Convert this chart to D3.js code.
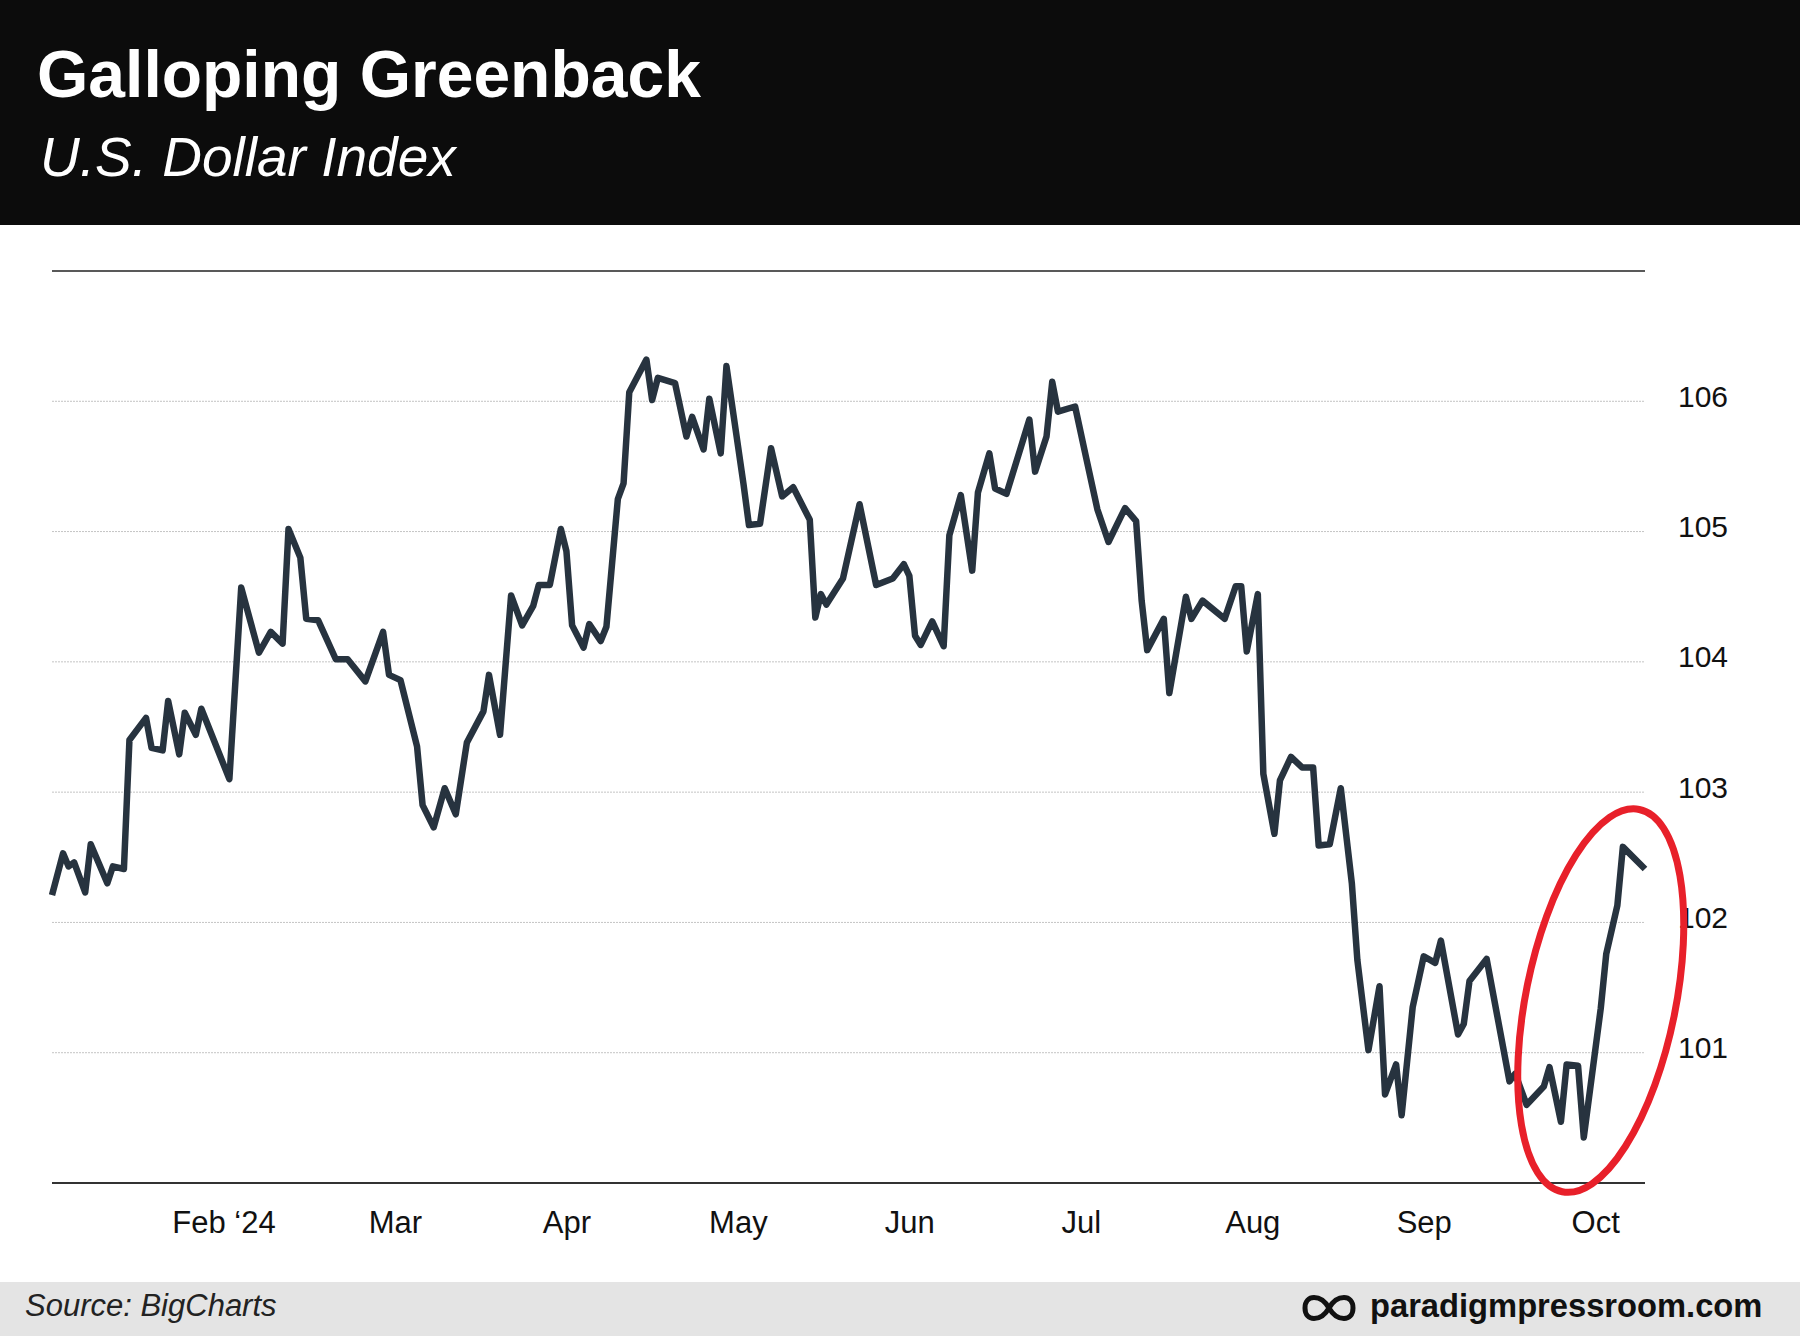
<!DOCTYPE html>
<html>
<head>
<meta charset="utf-8">
<script src="https://cdn.jsdelivr.net/npm/d3@7"></script>
<style>
  body { margin: 0; background: #fff; }
  svg { display: block; font-family: "Helvetica Neue", Helvetica, Arial, "Liberation Sans", sans-serif; }
</style>
</head>
<body>
<div id="chart"></div>
<script>
// DXY daily closes
const dates = [
  '2024-01-01','2024-01-03','2024-01-04','2024-01-05','2024-01-07','2024-01-08','2024-01-11','2024-01-12','2024-01-14',
  '2024-01-15','2024-01-18','2024-01-19','2024-01-21','2024-01-22','2024-01-24','2024-01-25','2024-01-27','2024-01-28',
  '2024-02-02','2024-02-04','2024-02-07','2024-02-09','2024-02-11','2024-02-12','2024-02-14','2024-02-15','2024-02-17',
  '2024-02-20','2024-02-22','2024-02-25','2024-02-28','2024-02-29',
  '2024-03-02','2024-03-05','2024-03-06','2024-03-08','2024-03-10','2024-03-12','2024-03-14','2024-03-17','2024-03-18',
  '2024-03-20','2024-03-22','2024-03-24','2024-03-26','2024-03-27','2024-03-29','2024-03-31',
  '2024-04-01','2024-04-02','2024-04-04','2024-04-05','2024-04-07','2024-04-08','2024-04-10','2024-04-11','2024-04-12',
  '2024-04-15','2024-04-16','2024-04-17','2024-04-20','2024-04-22','2024-04-23','2024-04-25','2024-04-26','2024-04-28','2024-04-29',
  '2024-05-02','2024-05-03','2024-05-05','2024-05-07','2024-05-09','2024-05-11','2024-05-14','2024-05-15','2024-05-16',
  '2024-05-17','2024-05-20','2024-05-23','2024-05-26','2024-05-29','2024-05-31',
  '2024-06-01','2024-06-02','2024-06-03','2024-06-05','2024-06-07','2024-06-08','2024-06-10','2024-06-12','2024-06-13',
  '2024-06-15','2024-06-16','2024-06-18','2024-06-22','2024-06-23','2024-06-25','2024-06-26','2024-06-27','2024-06-30',
  '2024-07-02','2024-07-04','2024-07-06','2024-07-09','2024-07-11','2024-07-12','2024-07-13','2024-07-16','2024-07-17',
  '2024-07-20','2024-07-21','2024-07-23','2024-07-27','2024-07-29','2024-07-30','2024-07-31',
  '2024-08-02','2024-08-03','2024-08-05','2024-08-06','2024-08-08','2024-08-10','2024-08-12','2024-08-13','2024-08-15',
  '2024-08-17','2024-08-19','2024-08-20','2024-08-22','2024-08-24','2024-08-25','2024-08-27','2024-08-28','2024-08-30',
  '2024-09-01','2024-09-03','2024-09-04','2024-09-07','2024-09-08','2024-09-09','2024-09-12','2024-09-16','2024-09-17',
  '2024-09-19','2024-09-22','2024-09-23','2024-09-25','2024-09-26','2024-09-28','2024-09-29',
  '2024-10-02','2024-10-03','2024-10-05','2024-10-06','2024-10-10'
];

const values = [
  102.21,102.53,102.43,102.46,102.23,102.60,102.30,102.43,102.41,
  103.40,103.57,103.34,103.32,103.70,103.29,103.61,103.44,103.64,
  103.10,104.57,104.07,104.23,104.14,105.02,104.80,104.33,104.32,
  104.02,104.02,103.85,104.23,103.90,
  103.86,103.35,102.90,102.73,103.03,102.83,103.38,103.62,103.90,
  103.44,104.51,104.28,104.43,104.59,104.59,105.02,
  104.85,104.28,104.11,104.29,104.16,104.27,105.25,105.37,106.07,
  106.32,106.01,106.18,106.14,105.73,105.88,105.63,106.02,105.60,106.27,
  105.37,105.05,105.06,105.64,105.27,105.34,105.09,104.34,104.52,
  104.44,104.64,105.21,104.59,104.64,104.75,
  104.66,104.20,104.13,104.31,104.12,104.97,105.28,104.70,105.30,
  105.60,105.33,105.29,105.86,105.46,105.73,106.15,105.92,105.96,
  105.56,105.17,104.92,105.18,105.08,104.47,104.09,104.33,103.76,
  104.50,104.33,104.47,104.33,104.58,104.58,104.08,
  104.52,103.14,102.68,103.09,103.27,103.19,103.19,102.59,102.60,
  103.03,102.30,101.71,101.02,101.51,100.68,100.91,100.52,101.35,
  101.74,101.69,101.86,101.14,101.22,101.55,101.72,100.78,100.84,
  100.60,100.74,100.89,100.47,100.91,100.90,100.35,
  101.34,101.76,102.13,102.58,102.41
];

const monthTicks = ['2024-02-01','2024-03-01','2024-04-01','2024-05-01','2024-06-01','2024-07-01','2024-08-01','2024-09-01','2024-10-01'];
const monthLabels = ['Feb \u201824','Mar','Apr','May','Jun','Jul','Aug','Sep','Oct'];
const yTicks = [101, 102, 103, 104, 105, 106];
const yDomain = [100, 107];

// red ring around the October rebound
const ringCenter = { date: '2024-10-02', value: 101.4 };

const title = 'Galloping Greenback';
const subtitle = 'U.S. Dollar Index';
const source = 'Source: BigCharts';
const brand = 'paradigmpressroom.com';

const W = 1800, H = 1336;
const plot = { left: 52, right: 1645, top: 271, bottom: 1183 };
const fontStack = '"Helvetica Neue", Helvetica, Arial, "Liberation Sans", sans-serif';

const parse = d3.timeParse('%Y-%m-%d');
// month axis is evenly spaced, so place dates as fractional months
const monthPos = s => {
    const d = parse(s);
    const days = new Date(d.getFullYear(), d.getMonth() + 1, 0).getDate();
    return d.getMonth() + (d.getDate() - 1) / days;
};

const series = dates.map((d, i) => ({ m: monthPos(d), value: values[i] }));

const svg = d3.select('#chart')
    .append('svg')
    .attr('width', W)
    .attr('height', H);

// header
svg.append('rect').attr('x', 0).attr('y', 0).attr('width', W).attr('height', 225).attr('fill', '#0c0c0c');
svg.append('text')
    .attr('x', 37).attr('y', 97)
    .attr('fill', '#fff')
    .style('font-size', '66px').style('font-weight', 'bold')
    .text(title);
svg.append('text')
    .attr('x', 40).attr('y', 176)
    .attr('fill', '#fff')
    .style('font-size', '55px').style('font-style', 'italic').style('font-weight', 300)
    .text(subtitle);

const x = d3.scaleLinear()
    .domain([0, series[series.length - 1].m])
    .range([plot.left, plot.right]);

const y = d3.scaleLinear()
    .domain(yDomain)
    .range([plot.bottom, plot.top]);

// gridlines
svg.append('g')
    .selectAll('line')
    .data(yTicks)
    .enter()
    .append('line')
    .attr('x1', plot.left).attr('x2', plot.right)
    .attr('y1', d => y(d)).attr('y2', d => y(d))
    .attr('stroke', '#c4c4c4')
    .attr('stroke-width', 1)
    .attr('stroke-dasharray', '2,1');

// top rule and baseline
svg.append('line')
    .attr('x1', plot.left).attr('x2', plot.right)
    .attr('y1', y(yDomain[1])).attr('y2', y(yDomain[1]))
    .attr('stroke', '#222').attr('stroke-width', 1.5);
svg.append('line')
    .attr('x1', plot.left).attr('x2', plot.right)
    .attr('y1', y(yDomain[0])).attr('y2', y(yDomain[0]))
    .attr('stroke', '#333').attr('stroke-width', 2);

const xAxis = d3.axisBottom(x)
    .tickValues(monthTicks.map(monthPos))
    .tickFormat((d, i) => monthLabels[i])
    .tickSize(0)
    .tickPadding(28);

const xg = svg.append('g')
    .attr('transform', `translate(0,${plot.bottom})`)
    .call(xAxis);
xg.select('.domain').remove();
xg.selectAll('text')
    .style('font-size', '31px')
    .style('font-family', fontStack)
    .attr('fill', '#111');

const yAxis = d3.axisRight(y)
    .tickValues(yTicks)
    .tickFormat(d3.format('d'))
    .tickSize(0)
    .tickPadding(33);

const yg = svg.append('g')
    .attr('transform', `translate(${plot.right},0)`)
    .call(yAxis);
yg.select('.domain').remove();
yg.selectAll('text')
    .attr('dy', '0.17em')
    .style('font-size', '30px')
    .style('font-family', fontStack)
    .attr('fill', '#111');

const line = d3.line()
    .x(d => x(d.m))
    .y(d => y(d.value));

svg.append('path')
    .datum(series)
    .attr('fill', 'none')
    .attr('stroke', '#27333f')
    .attr('stroke-width', 6.5)
    .attr('stroke-linejoin', 'round')
    .attr('d', line);

const cx = x(monthPos(ringCenter.date));
const cy = y(ringCenter.value);
svg.append('ellipse')
    .attr('cx', cx).attr('cy', cy)
    .attr('rx', 75).attr('ry', 195)
    .attr('transform', `rotate(11.4,${cx},${cy})`)
    .attr('fill', 'none')
    .attr('stroke', '#e8202a')
    .attr('stroke-width', 7);

// footer
svg.append('rect').attr('x', 0).attr('y', 1282).attr('width', W).attr('height', H - 1282).attr('fill', '#e4e4e4');
svg.append('text')
    .attr('x', 25).attr('y', 1316)
    .attr('fill', '#222')
    .style('font-size', '31px').style('font-style', 'italic').style('font-weight', 300)
    .text(source);

const lx = 1329, ly = 1308;
svg.append('path')
    .attr('d', `M${lx},${ly} C${lx + 8},${ly - 14} ${lx + 24},${ly - 14} ${lx + 24},${ly}
                C${lx + 24},${ly + 14} ${lx + 8},${ly + 14} ${lx},${ly}
                C${lx - 8},${ly - 14} ${lx - 24},${ly - 14} ${lx - 24},${ly}
                C${lx - 24},${ly + 14} ${lx - 8},${ly + 14} ${lx},${ly} Z`)
    .attr('fill', 'none')
    .attr('stroke', '#111')
    .attr('stroke-width', 5);
svg.append('text')
    .attr('x', 1370).attr('y', 1317)
    .attr('fill', '#111')
    .style('font-size', '32.7px').style('font-weight', 'bold')
    .text(brand);
</script>
</body>
</html>
